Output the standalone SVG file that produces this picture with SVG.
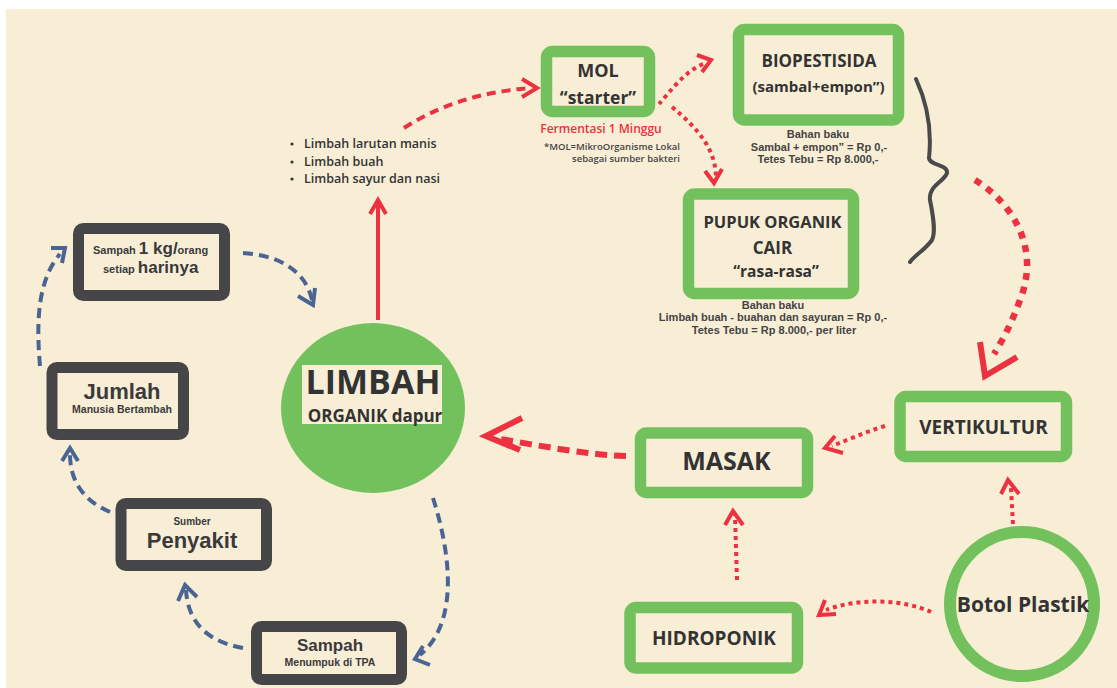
<svg xmlns="http://www.w3.org/2000/svg" width="1117" height="688" viewBox="0 0 1117 688">
<style>
.dk{fill:none;stroke:#464649;stroke-width:11}
.gr{fill:none;stroke:#72C15C;stroke-width:11.5}
.os{font-family:"Open Sans","Noto Sans",sans-serif;font-weight:bold;fill:#333333;text-anchor:middle}
.ls{font-family:"Liberation Sans",Arial,sans-serif;font-weight:bold;fill:#3a3a3c;text-anchor:middle}
.note{font-family:"Liberation Sans",Arial,sans-serif;font-weight:bold;fill:#444444;font-size:11px;text-anchor:middle}
.blue{fill:none;stroke:#4A6594;stroke-width:4;stroke-dasharray:10 6}
.blueh{fill:none;stroke:#4A6594;stroke-width:4;stroke-linejoin:miter}
.rdash{fill:none;stroke:#EC3240;stroke-width:4;stroke-dasharray:9 6}
.rdot{fill:none;stroke:#EC3240;stroke-width:4;stroke-dasharray:4 4}
.rbig{fill:none;stroke:#EC3240;stroke-width:6.5;stroke-dasharray:7 7}
.rbigd{fill:none;stroke:#EC3240;stroke-width:6;stroke-dasharray:12 7}
.rh{fill:none;stroke:#EC3240;stroke-width:4}
.rhb{fill:none;stroke:#EC3240;stroke-width:6}
</style>
<rect x="6" y="9" width="1111" height="679" fill="#F8EED6"/>

<g id="connectors">
  <path class="blue" d="M40,366 C36,320 38,280 60,254"/>
  <polyline class="blueh" points="51,248 65,248 62,263"/>
  <path class="blue" d="M243,253 C275,255 305,268 312,300"/>
  <polyline class="blueh" points="298,296 313,305 315,288"/>
  <path class="blue" d="M433,498 C448,545 462,620 420,655"/>
  <polyline class="blueh" points="423,646 415,659 430,665"/>
  <path class="blue" d="M243,648 C210,642 188,625 186,590"/>
  <polyline class="blueh" points="178,601 185,585 197,597"/>
  <path class="blue" d="M110,512 C82,500 70,480 70,454"/>
  <polyline class="blueh" points="62,461 70,448 78,461"/>
  <line class="rh" x1="378" y1="320" x2="378" y2="201"/>
  <polyline class="rh" points="370,214 378,200 386,214"/>
  <path class="rdash" d="M404,128 C440,105 480,92 530,88"/>
  <polyline class="rh" points="522,79 537,88 522,97"/>
  <path class="rdot" d="M659,104 C670,92 685,70 706,63"/>
  <polyline class="rh" points="697,55 711,60 702,72"/>
  <path class="rdot" d="M672,107 C700,130 715,150 716,176"/>
  <polyline class="rh" points="705,171 714,183 722,169"/>
  <path class="rbig" d="M975,180 C1015,205 1040,250 1020,300 C1012,322 1004,338 994,354"/>
  <polyline class="rhb" points="980,342 985,376 1017,357"/>
  <path class="rdot" d="M885,426 C865,432 848,440 832,446"/>
  <polyline class="rh" points="835,436 825,448 843,453"/>
  <path class="rbigd" d="M626,456 C590,455 540,446 495,438"/>
  <polyline class="rhb" points="522,418 486,436 520,450"/>
  <path class="rdot" d="M737,580 L735,515"/>
  <polyline class="rh" points="725,525 733,511 743,525"/>
  <path class="rdot" d="M931,612 C905,600 860,597 826,610"/>
  <polyline class="rh" points="825,600 819,615 836,614"/>
  <path class="rdot" d="M1013,524 L1011,488"/>
  <polyline class="rh" points="1001,494 1008,480 1019,494"/>
  <path d="M916,79 C928,105 932,130 929,158 C930,166 948,164 947,173 C944,182 928,186 930,200 C933,215 936,232 932,240 C925,250 915,255 910,262" fill="none" stroke="#4a4a4c" stroke-width="4" stroke-linecap="round"/>
</g>

<g id="sampah1kg">
  <rect class="dk" x="78.5" y="228.5" width="146" height="67" rx="5"/>
  <text class="ls" x="93" y="254" style="text-anchor:start"><tspan font-size="11">Sampah </tspan><tspan font-size="17">1 kg/</tspan><tspan font-size="11">orang</tspan></text>
  <text class="ls" x="103" y="273" style="text-anchor:start"><tspan font-size="11">setiap </tspan><tspan font-size="17">harinya</tspan></text>
</g>
<g id="jumlah">
  <rect class="dk" x="52" y="367.5" width="131.5" height="67" rx="5"/>
  <text class="ls" x="122" y="399" font-size="22">Jumlah</text>
  <text class="ls" x="122" y="413" font-size="10.5">Manusia Bertambah</text>
</g>
<g id="penyakit">
  <rect class="dk" x="121" y="503.5" width="145.5" height="62" rx="5"/>
  <text class="ls" x="192" y="525" font-size="10">Sumber</text>
  <text class="ls" x="192" y="548" font-size="22">Penyakit</text>
</g>
<g id="sampahtpa">
  <rect class="dk" x="256.5" y="626.5" width="145" height="53" rx="5"/>
  <text class="ls" x="330" y="651" font-size="17">Sampah</text>
  <text class="ls" x="330" y="666" font-size="10.5">Menumpuk di TPA</text>
</g>

<g id="limbah">
  <ellipse cx="373" cy="408" rx="92" ry="85" fill="#72C15C"/>
  <rect x="302" y="365" width="140" height="59" fill="#F8EED6"/>
  <text class="os" x="373" y="394" font-size="34">LIMBAH</text>
  <text class="os" x="375" y="422" font-size="17">ORGANIK dapur</text>
</g>

<g id="bullets" font-family="'Open Sans','Noto Sans',sans-serif" font-weight="600" font-size="12.5" fill="#333333">
  <circle cx="292" cy="144" r="1.6" fill="#333"/>
  <circle cx="292" cy="162" r="1.6" fill="#333"/>
  <circle cx="292" cy="179" r="1.6" fill="#333"/>
  <text x="304" y="148">Limbah larutan manis</text>
  <text x="304" y="166">Limbah buah</text>
  <text x="304" y="183">Limbah sayur dan nasi</text>
</g>

<g id="mol">
  <rect class="gr" x="546.5" y="51.5" width="103" height="60" rx="6"/>
  <text class="os" x="598" y="77" font-size="18">MOL</text>
  <text class="os" x="598" y="104" font-size="17.5">“starter”</text>
  <text x="601" y="133" font-family="'Open Sans','Noto Sans',sans-serif" font-weight="600" font-size="12" fill="#EC3240" text-anchor="middle">Fermentasi 1 Minggu</text>
  <text x="680" y="150" font-family="'Open Sans','Noto Sans',sans-serif" font-weight="600" font-size="9.5" fill="#444" text-anchor="end">*MOL=MikroOrganisme Lokal</text>
  <text x="680" y="162" font-family="'Open Sans','Noto Sans',sans-serif" font-weight="600" font-size="9.5" fill="#444" text-anchor="end">sebagai sumber bakteri</text>
</g>

<g id="biopestisida">
  <rect class="gr" x="738.5" y="29.5" width="160" height="90.5" rx="6"/>
  <text class="os" x="819" y="67" font-size="17">BIOPESTISIDA</text>
  <text class="os" x="818.5" y="92" font-size="15" font-weight="600">(sambal+empon”)</text>
  <text class="note" x="818" y="138">Bahan baku</text>
  <text class="note" x="819" y="151">Sambal + empon” = Rp 0,-</text>
  <text class="note" x="818" y="163">Tetes Tebu = Rp 8.000,-</text>
</g>

<g id="pupuk">
  <rect class="gr" x="688.5" y="194" width="165" height="99.5" rx="6"/>
  <text class="os" x="772.5" y="228" font-size="16.5">PUPUK ORGANIK</text>
  <text class="os" x="772.5" y="254" font-size="17">CAIR</text>
  <text class="os" x="776" y="277" font-size="15.5">“rasa-rasa”</text>
  <text class="note" x="773" y="309">Bahan baku</text>
  <text class="note" x="773" y="321">Limbah buah - buahan dan sayuran = Rp 0,-</text>
  <text class="note" x="774" y="334">Tetes Tebu = Rp 8.000,- per liter</text>
</g>

<g id="vertikultur">
  <rect class="gr" x="900" y="396.5" width="166.5" height="60" rx="6"/>
  <text class="os" x="983.5" y="434" font-size="19">VERTIKULTUR</text>
</g>
<g id="masak">
  <rect class="gr" x="640.5" y="433" width="167" height="59.5" rx="6"/>
  <text class="os" x="726.5" y="470" font-size="25">MASAK</text>
</g>
<g id="hidroponik">
  <rect class="gr" x="630" y="607.5" width="167.5" height="60.5" rx="6"/>
  <text class="os" x="714" y="645" font-size="19">HIDROPONIK</text>
</g>
<g id="botol">
  <circle cx="1022" cy="604" r="72" fill="none" stroke="#72C15C" stroke-width="12"/>
  <text class="os" x="1023" y="612" font-size="21">Botol Plastik</text>
</g>
</svg>
